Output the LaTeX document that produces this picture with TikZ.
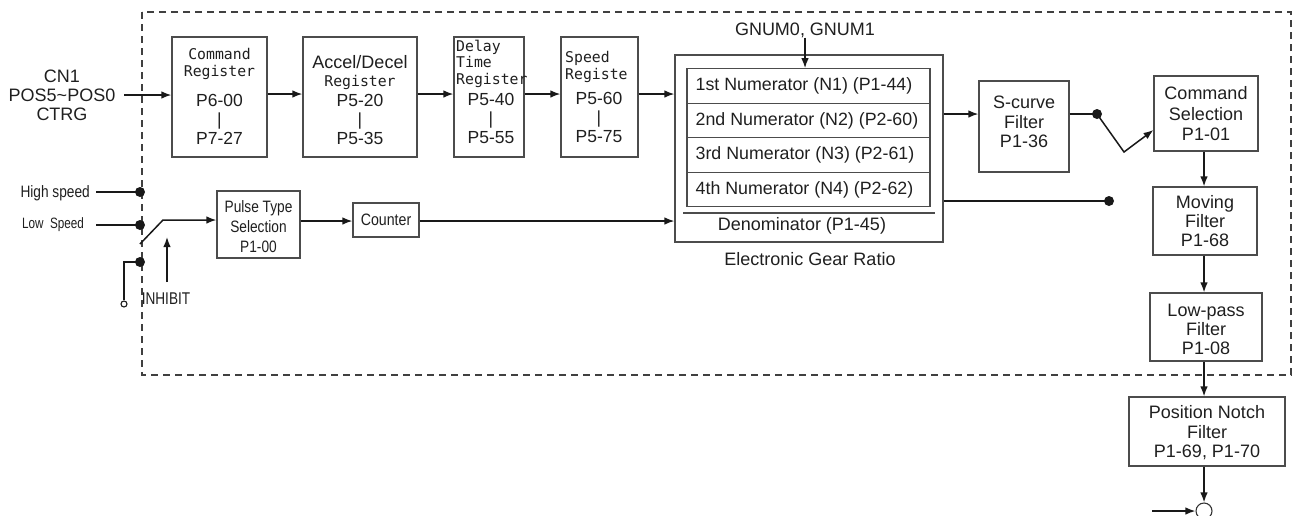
\documentclass[tikz,border=0pt]{standalone}
\usepackage{fontspec}
\setmainfont{Liberation Sans}
\newfontfamily\monof{DejaVu Sans Mono}
\usetikzlibrary{arrows.meta}
\newcommand\cnd[2][0.83]{\scalebox{#1}[1]{#2}}
\begin{document}
\begin{tikzpicture}[x=1pt,y=-1pt,
  every node/.style={font=\fontsize{18}{19}\selectfont, text=black!88},
  box/.style={draw=black!70, line width=1.1pt, inner sep=0pt},
  lbl/.style={inner sep=0pt, align=center},
  pnum/.style={inner sep=0pt, align=center, font=\fontsize{17.5}{19}\selectfont},
  mlbl/.style={inner sep=0pt, align=left, font=\monof\fontsize{14.8}{17}\selectfont},
  row/.style={box, minimum width=243pt, minimum height=34.5pt},
  rowt/.style={inner sep=0pt, anchor=west, font=\fontsize{17.8}{19}\selectfont},
  arr/.style={draw=black!90, line width=1.5pt, -{Latex[length=10pt,width=7.5pt]}},
  ln/.style={draw=black!90, line width=1.5pt},
  jdot/.style={circle, fill=black!90, inner sep=0pt, minimum size=10pt},
  dframe/.style={draw=black!75, line width=1.1pt, dash pattern=on 7pt off 5pt},
]
\useasboundingbox (0,0) rectangle (1299,515);

% dashed frame
\draw[dframe] (142,12) rectangle (1291,375);

% input CN1
\node[lbl] (cn1) at (62,95) {CN1\\POS5\textasciitilde POS0\\CTRG};

% register boxes
\node[box, minimum width=95pt, minimum height=120pt] (cmdreg) at (219.5,97) {};
\node[mlbl, align=center] (cmdreg-a) at (219.5,64) {Command\\Register};
\node[pnum] (cmdreg-b) at (219.5,119.5) {P6-00\\|\\P7-27};

\node[box, minimum width=114pt, minimum height=120pt] (acc) at (360,97) {};
\node[lbl] (acc-a) at (360,62) {Accel/Decel};
\node[mlbl] (acc-b) at (360,82) {Register};
\node[pnum] (acc-c) at (360,119) {P5-20\\|\\P5-35};

\node[box, minimum width=70pt, minimum height=120pt] (dly) at (489,97) {};
\node[mlbl, anchor=west, font=\monof\fontsize{14.8}{16.5}\selectfont] (dly-a) at (456,63.5) {Delay\\Time\\Register};
\node[pnum] (dly-b) at (491,118) {P5-40\\|\\P5-55};

\node[box, minimum width=77pt, minimum height=120pt] (spd) at (599.5,97) {};
\node[mlbl, anchor=west] (spd-a) at (565,66.5) {Speed\\Registe};
\node[pnum] (spd-b) at (599,117) {P5-60\\|\\P5-75};

% electronic gear ratio
\node[box, minimum width=268pt, minimum height=187pt] (gear) at (809,148.5) {};
\node[lbl] (gnum) at (805,30) {GNUM0, GNUM1};
\node[row] (n1) at (808.5,86) {};
\node[row] (n2) at (808.5,120.5) {};
\node[row] (n3) at (808.5,155) {};
\node[row] (n4) at (808.5,189.5) {};
\node[rowt] (n1-t) at ([xshift=9pt]n1.west) {1st Numerator (N1) (P1-44)};
\node[rowt] (n2-t) at ([xshift=9pt]n2.west) {2nd Numerator (N2) (P2-60)};
\node[rowt] (n3-t) at ([xshift=9pt]n3.west) {3rd Numerator (N3) (P2-61)};
\node[rowt] (n4-t) at ([xshift=9pt]n4.west) {4th Numerator (N4) (P2-62)};
\draw[draw=black!70, line width=1.1pt] (683,213) -- (935,213);
\node[lbl] (den) at (802,226) {Denominator (P1-45)};
\node[lbl] (egr) at (810,259) {Electronic Gear Ratio};
\coordinate (gx) at (805,0);
\draw[arr] (gnum.south -| gx) -- (n1.north -| gx);

% right column
\node[box, minimum width=90pt, minimum height=91pt] (scurve) at (1024,126.5) {};
\node[lbl, font=\fontsize{18}{19.5}\selectfont] (scurve-t) at (1024,122) {S-curve\\Filter\\P1-36};
\node[box, minimum width=104pt, minimum height=75pt] (cmdsel) at (1206,113.5) {};
\node[lbl, font=\fontsize{18}{20.5}\selectfont] (cmdsel-t) at (1206,114) {Command\\Selection\\P1-01};
\node[box, minimum width=104pt, minimum height=68pt] (mov) at (1205,221) {};
\node[lbl] (mov-t) at (1205,221) {Moving\\Filter\\P1-68};
\node[box, minimum width=112pt, minimum height=68pt] (lpf) at (1206,327) {};
\node[lbl] (lpf-t) at (1206,329) {Low-pass\\Filter\\P1-08};
\node[box, minimum width=156pt, minimum height=69pt] (notch) at (1207,431.5) {};
\node[lbl, font=\fontsize{18}{19.5}\selectfont] (notch-t) at (1207,433) {Position Notch\\Filter\\P1-69, P1-70};
\node[draw=black!80, line width=1.1pt, circle, minimum size=16pt, inner sep=0pt] (sum) at (1204,511) {};
\coordinate (sumin) at (1152,511);
\draw[arr] (sumin) -- (sum.west);

\coordinate (vx) at (1204,0);
\draw[arr] (cmdsel.south -| vx) -- (mov.north -| vx);
\draw[arr] (mov.south -| vx) -- (lpf.north -| vx);
\draw[arr] (lpf.south -| vx) -- (notch.north -| vx);
\draw[arr] (notch.south -| vx) -- (sum.north);

% register chain arrows
\coordinate (cn1e) at (124,95);
\draw[arr] (cn1e) -- (cn1e -| cmdreg.west);
\coordinate (ya) at (0,94);
\draw[arr] (cmdreg.east |- ya) -- (acc.west |- ya);
\draw[arr] (acc.east |- ya) -- (dly.west |- ya);
\draw[arr] (dly.east |- ya) -- (spd.west |- ya);
\draw[arr] (spd.east |- ya) -- (gear.west |- ya);

% gear to s-curve and command selection switch
\coordinate (ys) at (0,114);
\draw[arr] (gear.east |- ys) -- (scurve.west |- ys);
\node[jdot] (d1) at (1097,114) {};
\draw[ln] (scurve.east |- ys) -- (d1.center);
\coordinate (sw1) at (1124,152);
\coordinate (sy) at (0,130);
\draw[arr] (d1.center) -- (sw1) -- (cmdsel.west |- sy);
\node[jdot] (d2) at (1109,201) {};
\draw[ln] (gear.east |- d2) -- (d2.center);

% pulse input side
\node[lbl, anchor=east, font=\fontsize{16.5}{18}\selectfont] (hs) at (90,193) {\cnd{High speed}};
\node[lbl, font=\fontsize{15}{16}\selectfont] (ls) at (53,225) {\cnd[0.78]{Low\ \ Speed}};
\node[jdot] (dh) at (140,192) {};
\node[jdot] (dl) at (140,225) {};
\node[jdot] (di) at (140,262) {};
\coordinate (hsl) at (96,192);
\coordinate (lsl) at (96,225);
\draw[ln] (hsl) -- (dh.center);
\draw[ln] (lsl) -- (dl.center);

\node[box, minimum width=83pt, minimum height=67pt] (pulse) at (258.5,224.5) {};
\node[lbl, font=\fontsize{16.5}{20}\selectfont] (pulse-t) at (258.5,227) {\cnd{Pulse Type}\\\cnd{Selection}\\\cnd{P1-00}};
\coordinate (sw2a) at (140,244);
\coordinate (sw2b) at (163,220);
\draw[arr] (sw2a) -- (sw2b) -- (pulse.west |- sw2b);
\coordinate (inh) at (167,282);
\coordinate (inhtop) at (167,237);
\draw[arr] (inh) -- (inhtop);
\node[lbl, font=\fontsize{17}{18}\selectfont] (inhibit) at (166,299) {\cnd[0.8]{INHIBIT}};
\node[draw=black!90, line width=1.1pt, circle, inner sep=0pt, minimum size=6pt, fill=white] (oc) at (124,304) {};
\coordinate (ic) at (124,262);
\draw[ln] (di.center) -- (ic) -- (oc.north);

\node[box, minimum width=66pt, minimum height=34pt, font=\fontsize{16.5}{18}\selectfont] (cnt) at (386,220) {\cnd[0.86]{Counter}};
\coordinate (yc) at (0,221);
\draw[arr] (pulse.east |- yc) -- (cnt.west |- yc);
\draw[arr] (cnt.east |- yc) -- (gear.west |- yc);
\end{tikzpicture}
\end{document}
